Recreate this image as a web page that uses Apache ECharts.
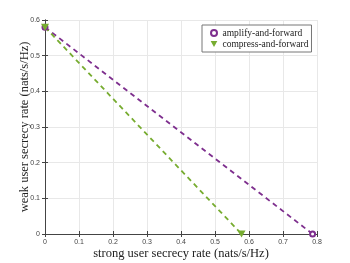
<!DOCTYPE html>
<html><head><meta charset="utf-8">
<script src="https://cdn.jsdelivr.net/npm/echarts@6/dist/echarts.min.js"></script>
<style>html,body{margin:0;padding:0;background:#fff}#c{width:350px;height:263px}</style>
</head><body><div id="c"></div>
<script>
var seriesNames = ['amplify-and-forward', 'compress-and-forward'];
var afPoints = [[0, 0.58], [0.787, 0]];
var cfPoints = [[0, 0.58], [0.578, 0]];
var xTicks = [0, 0.1, 0.2, 0.3, 0.4, 0.5, 0.6, 0.7, 0.8];
var yTicks = [0, 0.1, 0.2, 0.3, 0.4, 0.5, 0.6];
var xLabel = 'strong user secrecy rate (nats/s/Hz)';
var yLabel = 'weak user secrecy rate (nats/s/Hz)';

var chart = echarts.init(document.getElementById('c'), null, {renderer: 'canvas'});
var fmt = function (v) { return String(Math.round(v * 10) / 10); };
var tickFont = {fontSize: 7, color: '#444', fontFamily: 'Liberation Sans'};
var gridLine = {show: true, lineStyle: {color: '#e8e8e8', width: 1}};
var axLine = {show: true, lineStyle: {color: '#444', width: 1}};
var tickIn = {show: true, inside: true, length: 3, lineStyle: {color: '#444'}};
var downTri = 'path://M0,0L10,0L5,9Z';
chart.setOption({
  animation: false,
  grid: {left: 45, top: 20, width: 272, height: 214, show: false, containLabel: false, outerBoundsMode: 'none'},
  legend: {
    top: 25, left: 202, orient: 'vertical', itemGap: 1,
    itemWidth: 7, itemHeight: 6, padding: [3, 3, 3, 8],
    borderColor: '#777', borderWidth: 1, backgroundColor: '#fff', borderRadius: 0,
    textStyle: {fontFamily: 'Liberation Serif', fontSize: 9.5, color: '#222'},
    data: [{name: seriesNames[0], icon: 'emptyCircle', itemStyle: {borderWidth: 1.5}},
           {name: seriesNames[1], icon: downTri}]
  },
  xAxis: [{
    type: 'value', min: 0, max: 0.8, interval: 0.1,
    axisLine: axLine, axisTick: tickIn, splitLine: gridLine,
    axisLabel: Object.assign({formatter: fmt, margin: 5}, tickFont),
    name: xLabel, nameLocation: 'middle', nameGap: 13, nameMoveOverlap: false,
    nameTextStyle: {fontFamily: 'Liberation Serif', fontSize: 12.5, color: '#222'}
  }, {
    type: 'value', position: 'top', min: 0, max: 0.8, interval: 0.1,
    axisLine: axLine, axisTick: tickIn, splitLine: {show: false}, axisLabel: {show: false}
  }],
  yAxis: [{
    type: 'value', min: 0, max: 0.6, interval: 0.1,
    axisLine: axLine, axisTick: tickIn, splitLine: gridLine,
    axisLabel: Object.assign({formatter: fmt, margin: 5}, tickFont),
    name: yLabel, nameLocation: 'middle', nameGap: 14, nameMoveOverlap: false,
    nameTextStyle: {fontFamily: 'Liberation Serif', fontSize: 12.5, color: '#222'}
  }, {
    type: 'value', position: 'right', min: 0, max: 0.6, interval: 0.1,
    axisLine: axLine, axisTick: tickIn, splitLine: {show: false}, axisLabel: {show: false}
  }],
  series: [{
    name: seriesNames[0], type: 'line', data: afPoints,
    symbol: 'emptyCircle', symbolSize: 5,
    lineStyle: {color: '#7E2F8E', width: 1.8, type: [5, 4]},
    itemStyle: {color: '#7E2F8E', borderColor: '#7E2F8E', borderWidth: 1.5}
  }, {
    name: seriesNames[1], type: 'line', data: cfPoints,
    symbol: downTri, symbolSize: [8, 7],
    lineStyle: {color: '#77AC30', width: 1.8, type: [5, 4]},
    itemStyle: {color: '#77AC30'}
  }]
});
</script></body></html>
